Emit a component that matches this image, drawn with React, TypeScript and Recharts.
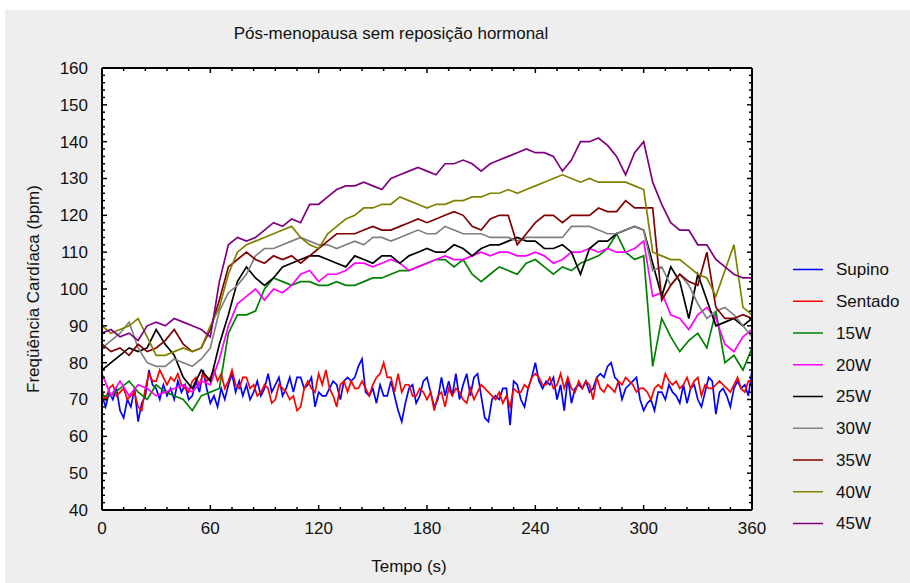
import { CartesianGrid, Line, LineChart, ReferenceLine, XAxis, YAxis } from "recharts";

// Frequência cardíaca por etapa
const T_REST = Array.from({ length: 181 }, (_, i) => i * 2); // Supino / Sentado: a cada 2 s
const T_EX = Array.from({ length: 73 }, (_, i) => i * 5); // cargas: a cada 5 s

const X_TICKS = Array.from({ length: 31 }, (_, i) => i * 12);
const Y_TICKS = Array.from({ length: 61 }, (_, i) => 40 + i * 2);

const SUPINO = [
  71, 68, 72, 70, 73, 67, 65, 70, 68, 73,
  64, 69, 71, 78, 74, 73, 70, 74, 71, 73,
  70, 75, 72, 74, 70, 71, 75, 72, 78, 73,
  69, 71, 68, 73, 70, 74, 77, 72, 75, 71,
  74, 70, 72, 75, 71, 73, 77, 72, 74, 76,
  71, 73, 76, 72, 76, 76, 73, 74, 76, 68,
  72, 71, 71, 73, 75, 74, 70, 75, 76, 75,
  76, 79, 81, 72, 71, 73, 69, 74, 71, 71,
  75, 71, 67, 64, 69, 73, 74, 69, 71, 75,
  76, 72, 68, 70, 76, 71, 75, 71, 77, 70,
  74, 77, 71, 76, 77, 71, 65, 64, 70, 71,
  70, 73, 73, 63, 75, 74, 70, 68, 73, 76,
  80, 75, 73, 75, 74, 76, 70, 74, 67, 76,
  69, 73, 74, 73, 75, 72, 73, 76, 77, 76,
  79, 80, 76, 75, 70, 73, 74, 75, 76, 70,
  67, 69, 70, 67, 72, 72, 70, 74, 72, 71,
  69, 74, 69, 73, 74, 70, 68, 72, 76, 75,
  66, 72, 73, 71, 68, 73, 75, 73, 74, 71,
  78,
];

const SENTADO = [
  72, 70, 73, 74, 71, 72, 73, 70, 71, 72,
  68, 67, 73, 77, 75, 75, 78, 76, 74, 76,
  75, 77, 74, 73, 72, 75, 76, 74, 77, 75,
  76, 78, 75, 77, 73, 75, 78, 74, 73, 76,
  76, 73, 74, 71, 72, 74, 73, 69, 70, 74,
  73, 72, 70, 71, 67, 68, 73, 75, 73, 72,
  77, 74, 78, 73, 71, 68, 74, 75, 72, 75,
  73, 73, 75, 73, 71, 74, 76, 77, 80, 76,
  76, 72, 77, 72, 74, 74, 71, 71, 73, 72,
  70, 72, 67, 71, 72, 68, 73, 71, 73, 72,
  70, 69, 73, 70, 72, 74, 73, 72, 71, 70,
  72, 69, 71, 68, 73, 72, 72, 74, 73, 76,
  77, 76, 74, 74, 76, 73, 74, 77, 73, 76,
  73, 72, 75, 73, 75, 74, 70, 76, 73, 72,
  74, 73, 72, 75, 74, 76, 75, 74, 72, 73,
  73, 72, 70, 73, 74, 73, 77, 75, 74, 75,
  73, 74, 76, 73, 75, 76, 71, 74, 73, 73,
  74, 75, 74, 73, 72, 74, 76, 73, 72, 75,
  75,
];

const W15 = [
  71, 71, 73, 75, 72, 70, 74, 72, 71, 70,
  67, 71, 72, 73, 88, 93, 93, 94, 100, 103,
  102, 101, 102, 102, 101, 101, 102, 101, 101, 102,
  103, 103, 104, 105, 105, 106, 107, 108, 108, 106,
  108, 104, 102, 104, 106, 105, 104, 107, 108, 106,
  104, 106, 105, 107, 108, 109, 111, 115, 110, 108,
  109, 79, 92, 87, 83, 86, 88, 84, 94, 80,
  82, 78, 84,
];

const W20 = [
  77, 71, 75, 71, 74, 73, 71, 72, 73, 74,
  72, 75, 74, 81, 90, 96, 98, 100, 97, 100,
  99, 101, 104, 105, 102, 104, 104, 105, 107, 107,
  106, 107, 108, 107, 105, 106, 107, 108, 109, 108,
  108, 109, 110, 109, 110, 110, 109, 109, 110, 109,
  107, 108, 110, 110, 111, 110, 111, 110, 110, 111,
  113, 98, 99, 93, 92, 89, 93, 95, 92, 85,
  83, 87, 89,
];

const W25 = [
  78, 80, 82, 84, 83, 84, 89, 85, 82, 76,
  73, 78, 75, 85, 93, 102, 106, 103, 101, 103,
  106, 107, 108, 109, 109, 108, 107, 106, 109, 108,
  107, 109, 109, 107, 109, 110, 111, 110, 110, 112,
  111, 109, 111, 112, 112, 113, 114, 113, 113, 111,
  111, 112, 110, 104, 111, 113, 113, 115, 116, 117,
  116, 107, 98, 106, 102, 92, 104, 97, 90, 91,
  92, 90, 92,
];

const W30 = [
  84, 86, 88, 91, 84, 80, 79, 79, 81, 80,
  79, 81, 84, 94, 99, 101, 104, 109, 111, 111,
  112, 113, 114, 113, 112, 112, 111, 112, 113, 112,
  114, 114, 113, 114, 115, 116, 115, 115, 117, 116,
  115, 115, 115, 114, 114, 114, 113, 114, 114, 114,
  114, 114, 117, 117, 117, 116, 115, 115, 116, 117,
  116, 105, 106, 101, 104, 101, 96, 92, 94, 95,
  93, 90, 87,
];

const W35 = [
  85, 83, 84, 82, 85, 83, 84, 86, 89, 85,
  83, 84, 89, 97, 106, 108, 110, 108, 107, 109,
  108, 109, 107, 109, 111, 113, 115, 115, 115, 116,
  117, 116, 116, 117, 118, 119, 118, 119, 120, 121,
  120, 117, 116, 119, 120, 120, 112, 115, 118, 120,
  120, 118, 120, 120, 120, 122, 121, 121, 124, 122,
  122, 122, 97, 101, 104, 102, 101, 110, 95, 92,
  92, 93, 92,
];

const W40 = [
  90, 88, 89, 90, 92, 87, 82, 82, 83, 84,
  83, 84, 90, 95, 104, 110, 112, 113, 114, 115,
  116, 117, 114, 112, 111, 115, 117, 119, 120, 122,
  122, 123, 123, 125, 124, 123, 122, 123, 123, 124,
  124, 125, 125, 126, 126, 127, 126, 127, 128, 129,
  130, 131, 130, 129, 130, 129, 129, 129, 129, 128,
  127, 110, 109, 108, 108, 106, 104, 103, 98, 105,
  112, 95, 93,
];

const W45 = [
  88, 89, 87, 88, 86, 90, 91, 90, 92, 91,
  90, 89, 87, 102, 112, 114, 113, 114, 116, 118,
  117, 119, 118, 123, 123, 125, 127, 128, 128, 129,
  128, 127, 130, 131, 132, 133, 132, 131, 134, 134,
  135, 134, 132, 134, 135, 136, 137, 138, 137, 137,
  136, 132, 135, 140, 140, 141, 139, 136, 131, 137,
  140, 129, 123, 118, 116, 116, 112, 112, 108, 106,
  104, 103, 103,
];

const SERIES = [
  { name: "Supino", color: "#0000ff", t: T_REST, values: SUPINO },
  { name: "Sentado", color: "#ff0000", t: T_REST, values: SENTADO },
  { name: "15W", color: "#008000", t: T_EX, values: W15 },
  { name: "20W", color: "#ff00ff", t: T_EX, values: W20 },
  { name: "25W", color: "#000000", t: T_EX, values: W25 },
  { name: "30W", color: "#808080", t: T_EX, values: W30 },
  { name: "35W", color: "#800000", t: T_EX, values: W35 },
  { name: "40W", color: "#808000", t: T_EX, values: W40 },
  { name: "45W", color: "#800080", t: T_EX, values: W45 },
];

const FONT = "'Liberation Sans', Arial, sans-serif";
const W = 910;
const H = 583;
const PLOT_TOP = 68;
const PLOT_RIGHT = 752;

function BottomTick(props: any) {
  const { x, y, payload } = props;
  const major = payload.value % 60 === 0;
  const len = major ? 5 : 3;
  return (
    <g>
      <line x1={x} y1={y} x2={x} y2={y - len} stroke="#000" strokeWidth={1.5} />
      <line x1={x} y1={PLOT_TOP} x2={x} y2={PLOT_TOP + len} stroke="#000" strokeWidth={1.5} />
      {major ? (
        <text x={x} y={y + 18} dy="0.35em" textAnchor="middle" fontSize={17} fontFamily={FONT} fill="#111">
          {payload.value}
        </text>
      ) : null}
    </g>
  );
}

function LeftTick(props: any) {
  const { x, y, payload } = props;
  const major = payload.value % 10 === 0;
  const len = major ? 5 : 3;
  return (
    <g>
      <line x1={x} y1={y} x2={x + len} y2={y} stroke="#000" strokeWidth={1.5} />
      <line x1={PLOT_RIGHT} y1={y} x2={PLOT_RIGHT - len} y2={y} stroke="#000" strokeWidth={1.5} />
      {major ? (
        <text x={x - 14} y={y} dy="0.35em" textAnchor="end" fontSize={17} fontFamily={FONT} fill="#111">
          {payload.value}
        </text>
      ) : null}
    </g>
  );
}

export default function App() {
  return (
    <div style={{ position: "absolute", left: 0, top: 0, width: W, height: H, background: "#fff" }}>
      <div style={{ position: "absolute", left: 5, top: 10, width: W - 5, height: H - 10, background: "#eeeeee" }} />
      <div style={{ position: "absolute", left: 0, top: 0 }}>
        <LineChart width={W} height={H} margin={{ top: PLOT_TOP, right: W - PLOT_RIGHT, bottom: 0, left: 0 }}>
          <CartesianGrid fill="#ffffff" stroke="none" horizontal={false} vertical={false} />
          <XAxis
            type="number"
            dataKey="t"
            domain={[0, 360]}
            allowDataOverflow
            ticks={X_TICKS}
            interval={0}
            height={73}
            tickSize={0}
            tickMargin={0}
            tickLine={false}
            axisLine={{ stroke: "#000", strokeWidth: 2 }}
            tick={(p: any) => <BottomTick {...p} />}
          />
          <YAxis
            type="number"
            domain={[40, 160]}
            allowDataOverflow
            ticks={Y_TICKS}
            interval={0}
            width={102}
            tickSize={0}
            tickMargin={0}
            tickLine={false}
            axisLine={{ stroke: "#000", strokeWidth: 2 }}
            tick={(p: any) => <LeftTick {...p} />}
          />
          {SERIES.map((s) => (
            <Line
              key={s.name}
              name={s.name}
              data={s.t.map((t, i) => ({ t, v: s.values[i] }))}
              dataKey="v"
              type="linear"
              stroke={s.color}
              strokeWidth={1.7}
              dot={false}
              isAnimationActive={false}
            />
          ))}
          <ReferenceLine y={160} stroke="#000" strokeWidth={2} />
          <ReferenceLine x={360} stroke="#000" strokeWidth={2} />
        </LineChart>
      </div>
      <svg
        width={W}
        height={H}
        style={{ position: "absolute", left: 0, top: 0, pointerEvents: "none" }}
        fontFamily={FONT}
      >
        <text x={391} y={33} dy="0.35em" textAnchor="middle" fontSize={17} fill="#111">
          Pós-menopausa sem reposição hormonal
        </text>
        <text x={409} y={566} dy="0.35em" textAnchor="middle" fontSize={17} fill="#111">
          Tempo (s)
        </text>
        <text
          x={33}
          y={289}
          dy="0.35em"
          textAnchor="middle"
          fontSize={17}
          fill="#111"
          transform="rotate(-90 33 289)"
        >
          Freqüência Cardíaca (bpm)
        </text>
        {SERIES.map((s, i) => {
          const cy = 269.5 + i * 31.75;
          return (
            <g key={s.name}>
              <line x1={793} y1={cy} x2={823} y2={cy} stroke={s.color} strokeWidth={1.5} />
              <text x={836} y={cy} dy="0.35em" fontSize={17} fill="#111">
                {s.name}
              </text>
            </g>
          );
        })}
      </svg>
    </div>
  );
}
